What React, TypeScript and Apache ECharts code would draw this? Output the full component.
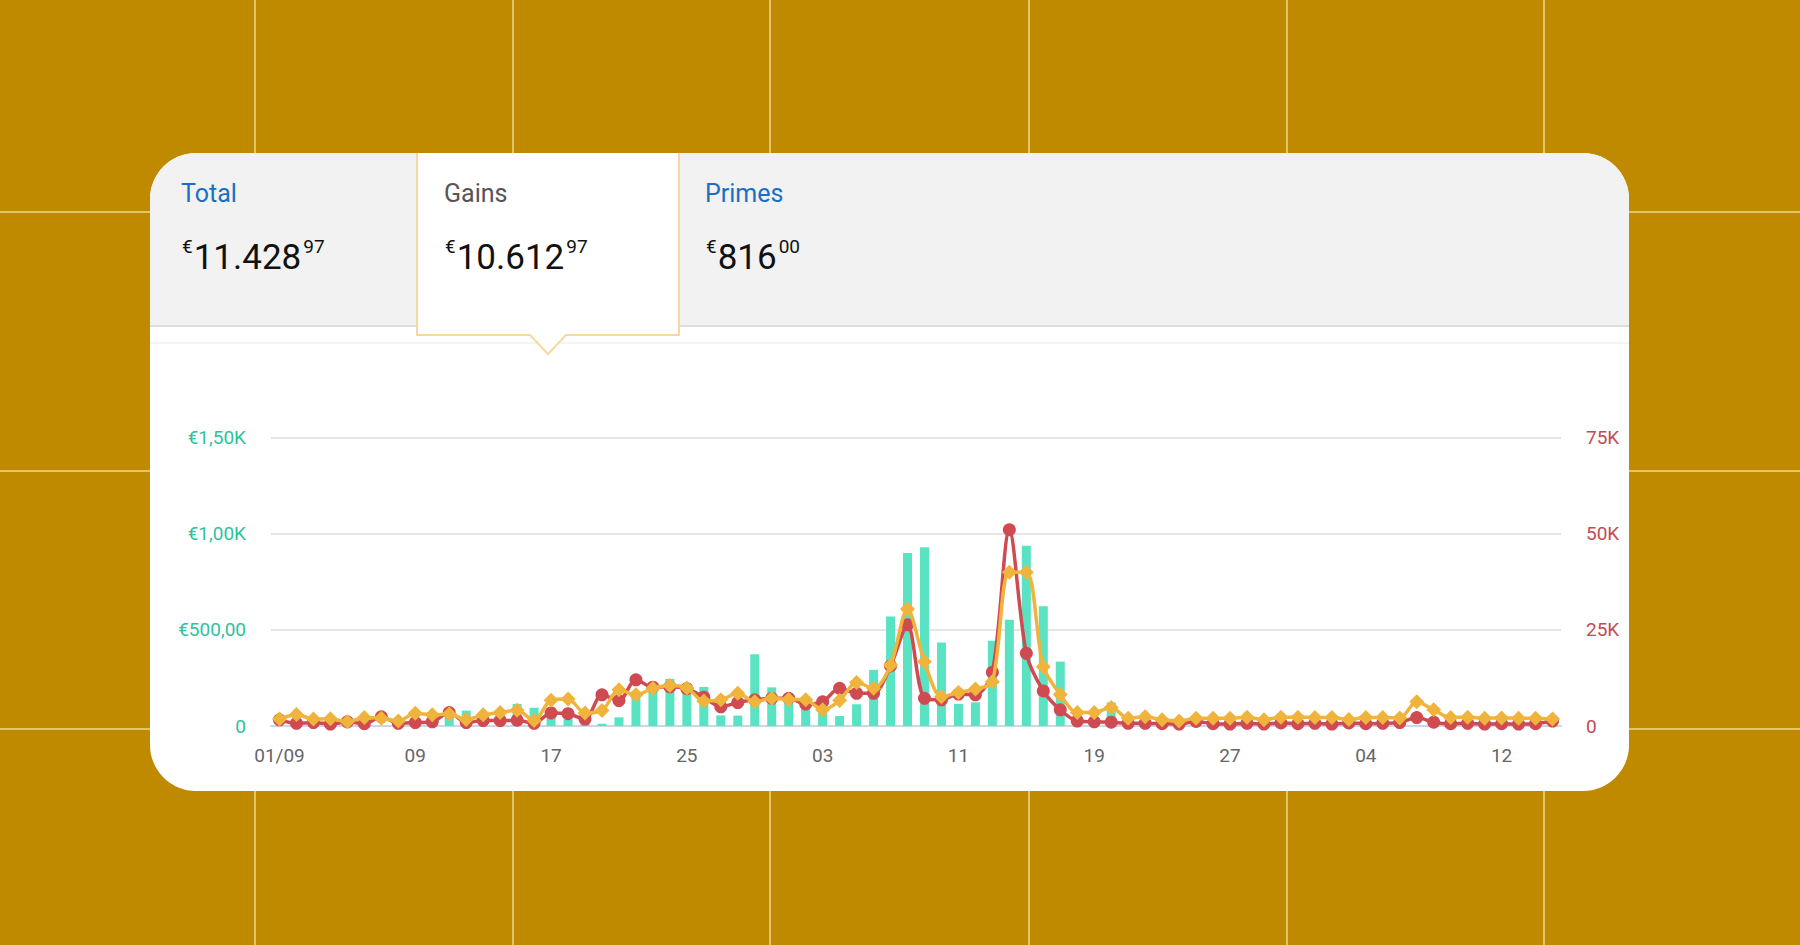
import React, { useEffect, useRef } from "react";
import * as echarts from "echarts";

// ---------- data ----------
const categories: string[] = [
  "01/09", "02/09", "03/09", "04/09", "05/09", "06/09", "07/09", "08/09", "09/09", "10/09",
  "11/09", "12/09", "13/09", "14/09", "15/09", "16/09", "17/09", "18/09", "19/09", "20/09",
  "21/09", "22/09", "23/09", "24/09", "25/09", "26/09", "27/09", "28/09", "29/09", "30/09",
  "01/10", "02/10", "03/10", "04/10", "05/10", "06/10", "07/10", "08/10", "09/10", "10/10",
  "11/10", "12/10", "13/10", "14/10", "15/10", "16/10", "17/10", "18/10", "19/10", "20/10",
  "21/10", "22/10", "23/10", "24/10", "25/10", "26/10", "27/10", "28/10", "29/10", "30/10",
  "31/10", "01/11", "02/11", "03/11", "04/11", "05/11", "06/11", "07/11", "08/11", "09/11",
  "10/11", "11/11", "12/11", "13/11", "14/11", "15/11",
];

// Gains in euros (teal bars, left axis)
const gainsEur: number[] = [
  0, 0, 0, 8, 0, 0, 0, 0, 0, 0,
  55, 80, 0, 0, 115, 95, 45, 35, 30, 12,
  45, 165, 190, 245, 190, 203, 55, 54, 373, 201,
  150, 100, 84, 52, 113, 292, 569, 899, 929, 434,
  115, 123, 443, 552, 937, 622, 335, 0, 0, 123,
  0, 0, 0, 0, 0, 0, 0, 0, 0, 0,
  0, 0, 0, 5, 0, 0, 0, 0, 0, 0,
  0, 0, 0, 0, 0, 0,
];

// Red series, thousands (right axis)
const redSeriesK: number[] = [
  1.6, 0.7, 0.9, 0.5, 1.1, 0.6, 2.4, 0.7, 0.9, 1.1,
  3.5, 0.9, 1.4, 1.4, 1.5, 0.7, 3.4, 3.2, 1.8, 8.1,
  6.6, 12, 10.1, 10.2, 9.7, 7.5, 5, 6.1, 6.8, 7.2,
  7.2, 5.7, 6.3, 9.8, 8.5, 8.5, 15.6, 26.3, 7.2, 6.8,
  8.3, 8.1, 14, 51, 18.9, 9.1, 4.2, 1.3, 1.1, 1.0,
  0.7, 0.7, 0.6, 0.5, 1.2, 0.6, 0.5, 0.7, 0.5, 0.8,
  0.6, 0.7, 0.5, 0.8, 0.6, 0.7, 0.9, 2.2, 1.0, 0.6,
  0.7, 0.5, 0.6, 0.5, 0.6, 1.3,
];

// Yellow series, thousands (right axis)
const yellowSeriesK: number[] = [
  1.8, 3.0, 1.8, 1.9, 1.1, 2.2, 2.0, 1.3, 3.3, 2.9,
  3.1, 1.7, 2.9, 3.5, 4.1, 1.4, 6.7, 7.0, 3.4, 4.0,
  9.4, 8.1, 9.8, 10.5, 9.9, 6.5, 6.8, 8.5, 6.3, 7.2,
  6.9, 6.8, 4.2, 6.6, 11.3, 9.8, 15.8, 30.4, 16.7, 7.6,
  8.7, 9.6, 11.5, 40, 40, 15.4, 8.2, 3.5, 3.5, 4.8,
  2.0, 2.4, 1.6, 1.3, 2.0, 2.0, 2.0, 2.3, 1.6, 2.3,
  2.3, 2.2, 2.2, 1.7, 2.2, 2.2, 2.1, 6.3, 4.2, 2.2,
  2.3, 2.0, 2.1, 2.0, 2.0, 1.8,
];

const leftTicks: number[] = [0, 500, 1000, 1500];
const rightTicksK: number[] = [0, 25, 50, 75];

const tabTitles: string[] = ["Total", "Gains", "Primes"];
const tabAmounts: string[] = ["11.428", "10.612", "816"];
const tabCents: string[] = ["97", "97", "00"];

// ---------- styling constants ----------
const FONT = "Roboto, 'Noto Sans', sans-serif";
const TEAL = "#5ae3c2";
const RED = "#d04a52";
const YELLOW = "#f0b43c";
const BLUE = "#1a6fc4";

function leftLabel(v: number): string {
  if (v === 0) return "0";
  if (v >= 1000) return "€" + (v / 1000).toFixed(2).replace(".", ",") + "K";
  return "€" + v.toFixed(2).replace(".", ",");
}

function buildOption(): any {
  const bgLinesV = [255, 513, 770, 1029, 1287, 1544];
  const bgLinesH = [212, 471, 729];
  const bgColor = "#efd98a";
  const graphics: any[] = [];

  bgLinesV.forEach((x) =>
    graphics.push({
      type: "line",
      z: -10,
      shape: { x1: x, y1: 0, x2: x, y2: 945 },
      style: { stroke: bgColor, lineWidth: 1.5 },
    })
  );
  bgLinesH.forEach((y) =>
    graphics.push({
      type: "line",
      z: -10,
      shape: { x1: 0, y1: y, x2: 1800, y2: y },
      style: { stroke: bgColor, lineWidth: 1.5 },
    })
  );

  // card
  graphics.push({
    type: "rect",
    z: -9,
    shape: { x: 150, y: 153, width: 1479, height: 638, r: 46 },
    style: { fill: "#ffffff" },
  });
  // header band
  graphics.push({
    type: "rect",
    z: -8,
    shape: { x: 150, y: 153, width: 1479, height: 173, r: [46, 46, 0, 0] },
    style: { fill: "#f2f2f2" },
  });
  graphics.push({
    type: "line",
    z: -8,
    shape: { x1: 150, y1: 326, x2: 1629, y2: 326 },
    style: { stroke: "#dedede", lineWidth: 2 },
  });
  graphics.push({
    type: "line",
    z: -8,
    shape: { x1: 150, y1: 343, x2: 1629, y2: 343 },
    style: { stroke: "#f4f4f4", lineWidth: 2 },
  });
  // selected tab
  graphics.push({
    type: "polygon",
    z: -7,
    shape: {
      points: [
        [417, 153], [679, 153], [679, 335], [566, 335], [548, 354], [530, 335], [417, 335],
      ],
    },
    style: { fill: "#ffffff" },
  });
  graphics.push({
    type: "polyline",
    z: -6,
    shape: {
      points: [
        [417, 153], [417, 335], [530, 335], [548, 354], [566, 335], [679, 335], [679, 153],
      ],
    },
    style: { stroke: "#f7d9a0", lineWidth: 2, fill: null },
  });

  const tabX = [181, 444, 705];
  tabTitles.forEach((t, i) => {
    graphics.push({
      type: "text",
      z: 10,
      x: tabX[i],
      y: 193,
      style: {
        text: t,
        fill: i === 1 ? "#555555" : BLUE,
        fontSize: 25,
        fontFamily: FONT,
        align: "left",
        verticalAlign: "middle",
        textAlign: "left",
        textVerticalAlign: "middle",
      },
    });
    graphics.push({
      type: "text",
      z: 10,
      x: tabX[i] + 1,
      y: 237,
      style: {
        text: "{c|€}{n|" + tabAmounts[i] + "}{d|" + tabCents[i] + "}",
        fill: "#111111",
        fontFamily: FONT,
        align: "left",
        verticalAlign: "top",
        textAlign: "left",
        textVerticalAlign: "top",
        rich: {
          c: { fontSize: 19, lineHeight: 27, verticalAlign: "top", fill: "#111111", fontFamily: FONT, padding: [0, 1, 0, 0] },
          n: { fontSize: 35, lineHeight: 40, verticalAlign: "middle", fill: "#111111", fontFamily: FONT },
          d: { fontSize: 19, lineHeight: 27, verticalAlign: "top", fill: "#111111", fontFamily: FONT, padding: [0, 0, 0, 2] },
        },
      },
    });
  });

  return {
    animation: false,
    backgroundColor: "#c08a00",
    textStyle: { fontFamily: FONT },
    graphic: { elements: graphics },
    grid: { left: 271, right: 239, top: 437.5, bottom: 219, containLabel: false },
    xAxis: {
      type: "category",
      data: categories,
      boundaryGap: true,
      axisLine: { show: true, lineStyle: { color: "#ccd6eb", width: 2 } },
      axisTick: { show: false },
      axisLabel: {
        interval: 7,
        color: "#666666",
        fontSize: 19,
        margin: 20,
        fontFamily: FONT,
        formatter: (v: string, idx: number) => (idx === 0 ? v : v.slice(0, 2)),
      },
      splitLine: { show: false },
    },
    yAxis: [
      {
        type: "value",
        min: leftTicks[0],
        max: leftTicks[leftTicks.length - 1],
        interval: leftTicks[1] - leftTicks[0],
        axisLine: { show: false },
        axisTick: { show: false },
        axisLabel: {
          color: "#2fc29e",
          fontSize: 19,
          margin: 25,
          fontFamily: FONT,
          formatter: leftLabel,
        },
        splitLine: { show: true, lineStyle: { color: "#e6e6e6", width: 2 } },
      },
      {
        type: "value",
        min: rightTicksK[0],
        max: rightTicksK[rightTicksK.length - 1],
        interval: rightTicksK[1] - rightTicksK[0],
        position: "right",
        axisLine: { show: false },
        axisTick: { show: false },
        axisLabel: {
          color: "#c44a54",
          fontSize: 19,
          margin: 25,
          fontFamily: FONT,
          formatter: (v: number) => (v === 0 ? "0" : v + "K"),
        },
        splitLine: { show: false },
      },
    ],
    series: [
      {
        name: "Gains",
        type: "bar",
        yAxisIndex: 0,
        data: gainsEur,
        barWidth: 9,
        itemStyle: { color: TEAL },
        z: 1,
      },
      {
        name: "Rouge",
        type: "line",
        yAxisIndex: 1,
        data: redSeriesK,
        smooth: 0.3,
        symbol: "circle",
        symbolSize: 13,
        showAllSymbol: true,
        lineStyle: { color: RED, width: 3.5 },
        itemStyle: { color: RED },
        z: 3,
      },
      {
        name: "Jaune",
        type: "line",
        yAxisIndex: 1,
        data: yellowSeriesK,
        smooth: 0.3,
        symbol: "diamond",
        symbolSize: 15,
        showAllSymbol: true,
        lineStyle: { color: YELLOW, width: 3.5 },
        itemStyle: { color: YELLOW },
        z: 4,
      },
    ],
  };
}

export default function App() {
  const ref = useRef<HTMLDivElement>(null);
  useEffect(() => {
    if (!ref.current) return;
    const chart = echarts.init(ref.current, null, { renderer: "svg" });
    chart.setOption(buildOption());
    return () => {
      chart.dispose();
    };
  }, []);
  return (
    <div
      ref={ref}
      style={{ position: "fixed", left: 0, top: 0, width: 1800, height: 945 }}
    />
  );
}
